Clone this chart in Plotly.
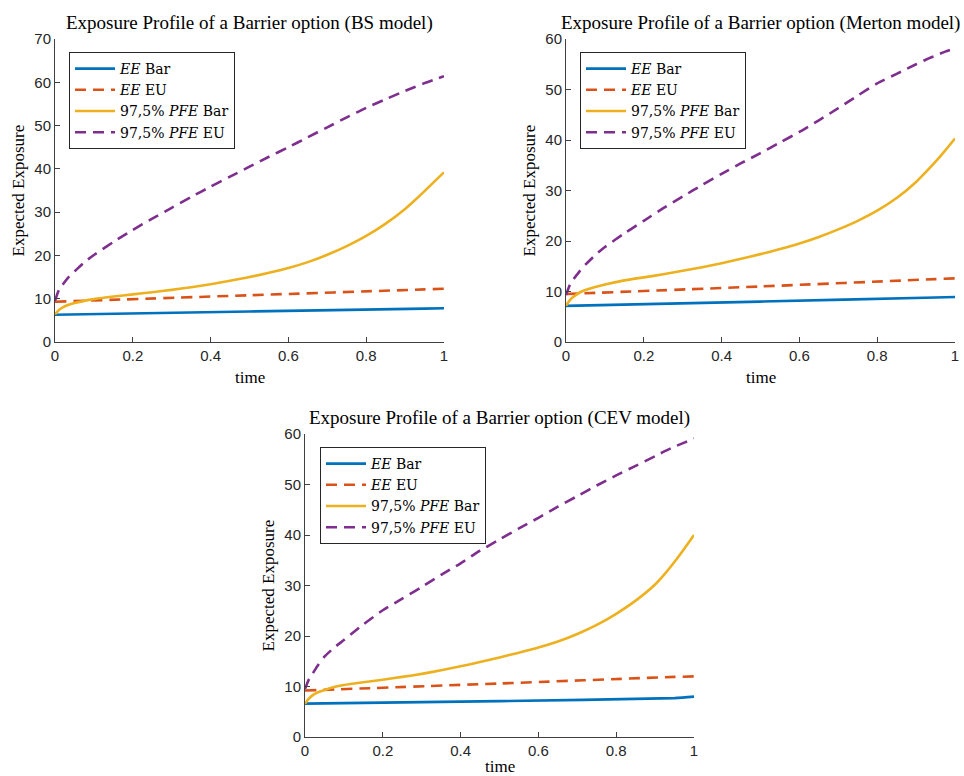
import plotly.graph_objects as go

# ---- data ----
time = [0, 0.01, 0.02, 0.035, 0.05, 0.075, 0.1, 0.15, 0.2, 0.25, 0.3, 0.35, 0.4, 0.45, 0.5,
        0.55, 0.6, 0.65, 0.7, 0.75, 0.8, 0.85, 0.9, 0.925, 0.95, 0.975, 1.0]
time_lin = [0, 0.5, 0.95, 1.0]

# BS model
bs_ee_bar = [6.3, 7.05, 7.72, 7.8]
bs_ee_eu = [9.3, 10.8, 12.15, 12.3]
bs_pfe_bar = [6.4, 7.4, 8.0, 8.6, 9.0, 9.5, 9.9, 10.5, 11.0, 11.5, 12.05, 12.65, 13.35, 14.15, 15.0,
              16.0, 17.1, 18.45, 20.15, 22.15, 24.5, 27.35, 30.75, 32.75, 34.85, 37.05, 39.2]
bs_pfe_eu = [9.5, 12.0, 13.3, 15.0, 16.3, 18.4, 20.1, 23.1, 25.9, 28.5, 31.0, 33.5, 35.9, 38.2, 40.5,
             42.8, 45.0, 47.3, 49.6, 51.9, 54.1, 56.1, 58.0, 58.9, 59.8, 60.6, 61.4]

# Merton model
me_ee_bar = [7.15, 8.0, 8.82, 8.9]
me_ee_eu = [9.5, 11.0, 12.45, 12.6]
me_pfe_bar = [7.2, 8.3, 9.0, 9.8, 10.3, 10.9, 11.4, 12.2, 12.8, 13.4, 14.1, 14.8, 15.6, 16.5, 17.4,
              18.4, 19.5, 20.8, 22.3, 24.0, 26.0, 28.5, 31.7, 33.65, 35.7, 37.95, 40.3]
me_pfe_eu = [9.3, 11.3, 12.5, 14.0, 15.3, 17.2, 18.8, 21.5, 24.0, 26.5, 28.8, 31.1, 33.3, 35.4, 37.4,
             39.5, 41.6, 43.9, 46.3, 48.8, 51.2, 53.1, 55.0, 55.9, 56.7, 57.5, 58.2]

# CEV model
cev_ee_bar = [6.6, 7.1, 7.7, 8.0]
cev_ee_eu = [9.2, 10.6, 11.9, 12.0]
cev_pfe_bar = [6.6, 7.6, 8.3, 8.9, 9.3, 9.9, 10.3, 10.85, 11.35, 11.9, 12.5, 13.2, 14.0, 14.85, 15.75,
               16.7, 17.7, 18.9, 20.4, 22.2, 24.4, 27.0, 30.2, 32.3, 34.7, 37.3, 40.0]
cev_pfe_eu = [9.5, 11.4, 12.6, 14.4, 15.9, 17.7, 19.2, 22.3, 25.1, 27.4, 29.7, 32.1, 34.4, 36.9, 39.1,
              41.3, 43.4, 45.6, 47.7, 49.8, 51.8, 53.7, 55.6, 56.6, 57.5, 58.3, 59.1]

series_names = ["<i>EE</i> Bar", "<i>EE</i> EU", "97,5% <i>PFE</i> Bar", "97,5% <i>PFE</i> EU"]
titles = ["Exposure Profile of a Barrier option (BS model)",
          "Exposure Profile of a Barrier option (Merton model)",
          "Exposure Profile of a Barrier option (CEV model)"]
x_label = "time"
y_label = "Expected Exposure"
x_ticks = [0, 0.2, 0.4, 0.6, 0.8, 1]
x_ticklabels = ["0", "0.2", "0.4", "0.6", "0.8", "1"]
y_max = [70, 60, 60]

colors = ["#0072BD", "#D95319", "#EDB120", "#7E2F8E"]
dashes = ["solid", "11px,7px", "solid", "11px,7px"]

W, H = 964, 776
SERIF = "Liberation Serif"
LEG_SERIF = "DejaVu Serif"
SANS = "Liberation Sans"
AX = "#262626"
AXLINE = "#404040"

# pixel boxes of the three axes: (left, right, top, bottom)
boxes = [(55, 444, 39, 342), (566, 955, 39, 342), (305, 694, 434, 737)]
legend_pos = [(69, 52), (580, 52), (320, 447)]

panels = [
    [bs_ee_bar, bs_ee_eu, bs_pfe_bar, bs_pfe_eu],
    [me_ee_bar, me_ee_eu, me_pfe_bar, me_pfe_eu],
    [cev_ee_bar, cev_ee_eu, cev_pfe_bar, cev_pfe_eu],
]
x_series = [time_lin, time_lin, time, time]

fig = go.Figure()
layout = dict(width=W, height=H, margin=dict(l=0, r=0, t=0, b=0, autoexpand=False),
              paper_bgcolor="white", plot_bgcolor="white", showlegend=True)
annotations = []

for i, (panel, box) in enumerate(zip(panels, boxes)):
    n = "" if i == 0 else str(i + 1)
    xa, ya = "x" + n, "y" + n
    lg = "legend" + n
    for k, vals in enumerate(panel):
        fig.add_trace(go.Scatter(
            x=x_series[k], y=vals, mode="lines", name=series_names[k],
            line=dict(color=colors[k], width=2.6, dash=dashes[k], shape="spline", smoothing=0.6),
            xaxis=xa, yaxis=ya, legend=lg))
    l, r, t, b = box
    dx = [l / W, r / W]
    dy = [1 - b / H, 1 - t / H]
    common = dict(ticks="inside", ticklen=5, tickcolor=AXLINE, showline=True, linecolor=AXLINE,
                  linewidth=1, showgrid=False, zeroline=False, mirror=False,
                  tickfont=dict(family=SANS, size=15, color=AX))
    layout["xaxis" + n] = dict(domain=dx, anchor=ya, range=[0, 1], tickvals=x_ticks,
                               ticktext=x_ticklabels, **common)
    layout["yaxis" + n] = dict(domain=dy, anchor=xa, range=[0, y_max[i]], dtick=10, **common)
    lx, ly = legend_pos[i]
    layout[lg] = dict(x=lx / W, y=1 - ly / H, xanchor="left", yanchor="top",
                      bgcolor="white", bordercolor=AX, borderwidth=1,
                      font=dict(family=LEG_SERIF, size=14, color="black"),
                      tracegroupgap=0, itemwidth=40)
    cx = (l + r) / 2
    annotations.append(dict(text=titles[i], x=cx / W, y=1 - (t - 16) / H, xref="paper", yref="paper",
                            xanchor="center", yanchor="middle", showarrow=False,
                            font=dict(family=SERIF, size=19, color="black")))
    ty = min(b + 35, H - 10)
    annotations.append(dict(text=x_label, x=cx / W, y=1 - ty / H, xref="paper", yref="paper",
                            xanchor="center", yanchor="middle", showarrow=False,
                            font=dict(family=SERIF, size=17, color="black")))
    annotations.append(dict(text=y_label, x=(l - 37) / W, y=1 - ((t + b) / 2) / H,
                            xref="paper", yref="paper", xanchor="center", yanchor="middle",
                            showarrow=False, textangle=-90,
                            font=dict(family=SERIF, size=17, color="black")))

layout["annotations"] = annotations
fig.update_layout(**layout)
fig.write_html("out.html")
